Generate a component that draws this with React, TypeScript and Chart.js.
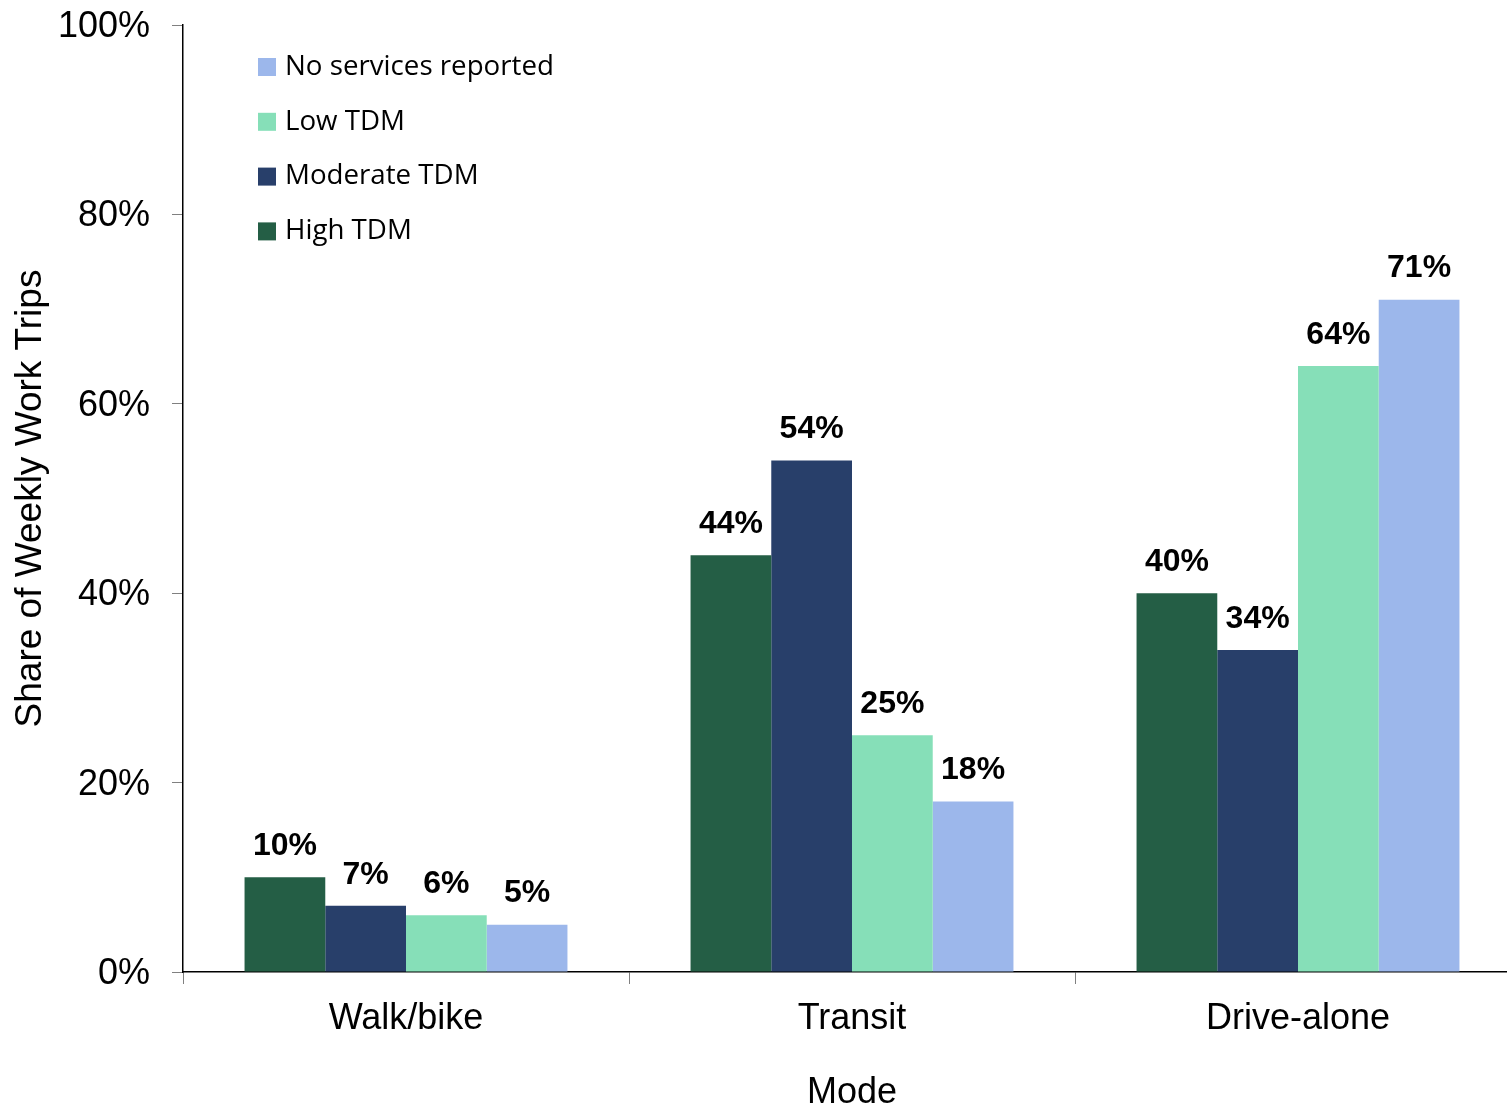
import React, { useEffect, useRef } from "react";
import { Chart, registerables } from "chart.js";

Chart.register(...registerables);

const categories = ["Walk/bike", "Transit", "Drive-alone"];
const seriesNames = ["High TDM", "Moderate TDM", "Low TDM", "No services reported"];
const highTDM = [10, 44, 40];
const moderateTDM = [7, 54, 34];
const lowTDM = [6, 25, 64];
const noServices = [5, 18, 71];
const seriesColors = ["#245E45", "#283F6A", "#86DFB8", "#9CB7EB"];
const legendOrder = [3, 2, 1, 0];
const yMin = 0;
const yMax = 100;
const yStep = 20;
const xTitle = "Mode";
const yTitle = "Share of Weekly Work Trips";

const dataLabelPlugin = {
  id: "dataLabels",
  afterDatasetsDraw(chart: any) {
    const ctx = chart.ctx;
    ctx.save();
    ctx.font = "bold 32px 'Liberation Sans', Arial, sans-serif";
    ctx.fillStyle = "#000";
    ctx.textAlign = "center";
    ctx.textBaseline = "middle";
    chart.data.datasets.forEach((ds: any, i: number) => {
      const meta = chart.getDatasetMeta(i);
      meta.data.forEach((bar: any, j: number) => {
        ctx.fillText(ds.data[j] + "%", bar.x, bar.y - 31);
      });
    });
    ctx.restore();
  },
};

const legendPlugin = {
  id: "customLegend",
  afterDraw(chart: any) {
    const ctx = chart.ctx;
    const { left, top } = chart.chartArea;
    ctx.save();
    ctx.font = "27.7px 'Open Sans', sans-serif";
    ctx.textBaseline = "middle";
    ctx.textAlign = "left";
    legendOrder.forEach((idx, k) => {
      const cy = top + 42 + k * 54.8;
      ctx.fillStyle = seriesColors[idx];
      ctx.fillRect(left + 75, cy - 9, 18, 18);
      ctx.fillStyle = "#000";
      ctx.fillText(seriesNames[idx], left + 102, cy);
    });
    ctx.restore();
  },
};

export default function App() {
  const ref = useRef<HTMLCanvasElement | null>(null);
  useEffect(() => {
    if (!ref.current) return;
    const seriesData = [highTDM, moderateTDM, lowTDM, noServices];
    const chart = new Chart(ref.current, {
      type: "bar",
      data: {
        labels: categories,
        datasets: seriesNames.map((name, i) => ({
          label: name,
          data: seriesData[i],
          backgroundColor: seriesColors[i],
          borderWidth: 0,
          categoryPercentage: 0.724,
          barPercentage: 1,
        })),
      },
      options: {
        responsive: false,
        animation: false,
        layout: { padding: { left: 0, top: 25, right: 9, bottom: 0 } },
        plugins: {
          legend: { display: false },
          tooltip: { enabled: false },
        },
        scales: {
          x: {
            afterFit(scale: any) {
              scale.height = 140;
            },
            grid: {
              display: true,
              offset: true,
              drawOnChartArea: false,
              drawTicks: true,
              tickLength: 12,
              color: "#808080",
            },
            border: { display: true, color: "#000", width: 1.5 },
            ticks: {
              color: "#000",
              padding: 13,
              font: { family: "'Liberation Sans', Arial, sans-serif", size: 36 },
            },
            title: {
              display: true,
              text: xTitle,
              color: "#000",
              padding: { top: 0, bottom: -3 },
              font: { family: "'Liberation Sans', Arial, sans-serif", size: 36 },
            },
          },
          y: {
            min: yMin,
            max: yMax,
            afterFit(scale: any) {
              scale.width = 183;
              scale.paddingTop = 0;
              scale.paddingBottom = 0;
            },
            grid: {
              display: true,
              drawOnChartArea: false,
              drawTicks: true,
              tickLength: 11,
              color: "#808080",
            },
            border: { display: true, color: "#000", width: 1.5 },
            ticks: {
              stepSize: yStep,
              color: "#000",
              padding: 22,
              labelOffset: 2,
              callback: (v: any) => v + "%",
              font: { family: "'Liberation Sans', Arial, sans-serif", size: 36 },
            },
            title: {
              display: true,
              text: yTitle,
              color: "#000",
              padding: { top: 9, bottom: 0 },
              font: { family: "'Liberation Sans', Arial, sans-serif", size: 37 },
            },
          },
        },
      },
      plugins: [dataLabelPlugin, legendPlugin],
    });
    return () => chart.destroy();
  }, []);

  return (
    <div
      style={{
        position: "fixed",
        left: 0,
        top: 0,
        width: 1507,
        height: 1112,
        overflow: "hidden",
        background: "#fff",
      }}
    >
      <canvas ref={ref} width={1530} height={1112} style={{ display: "block" }} />
    </div>
  );
}
